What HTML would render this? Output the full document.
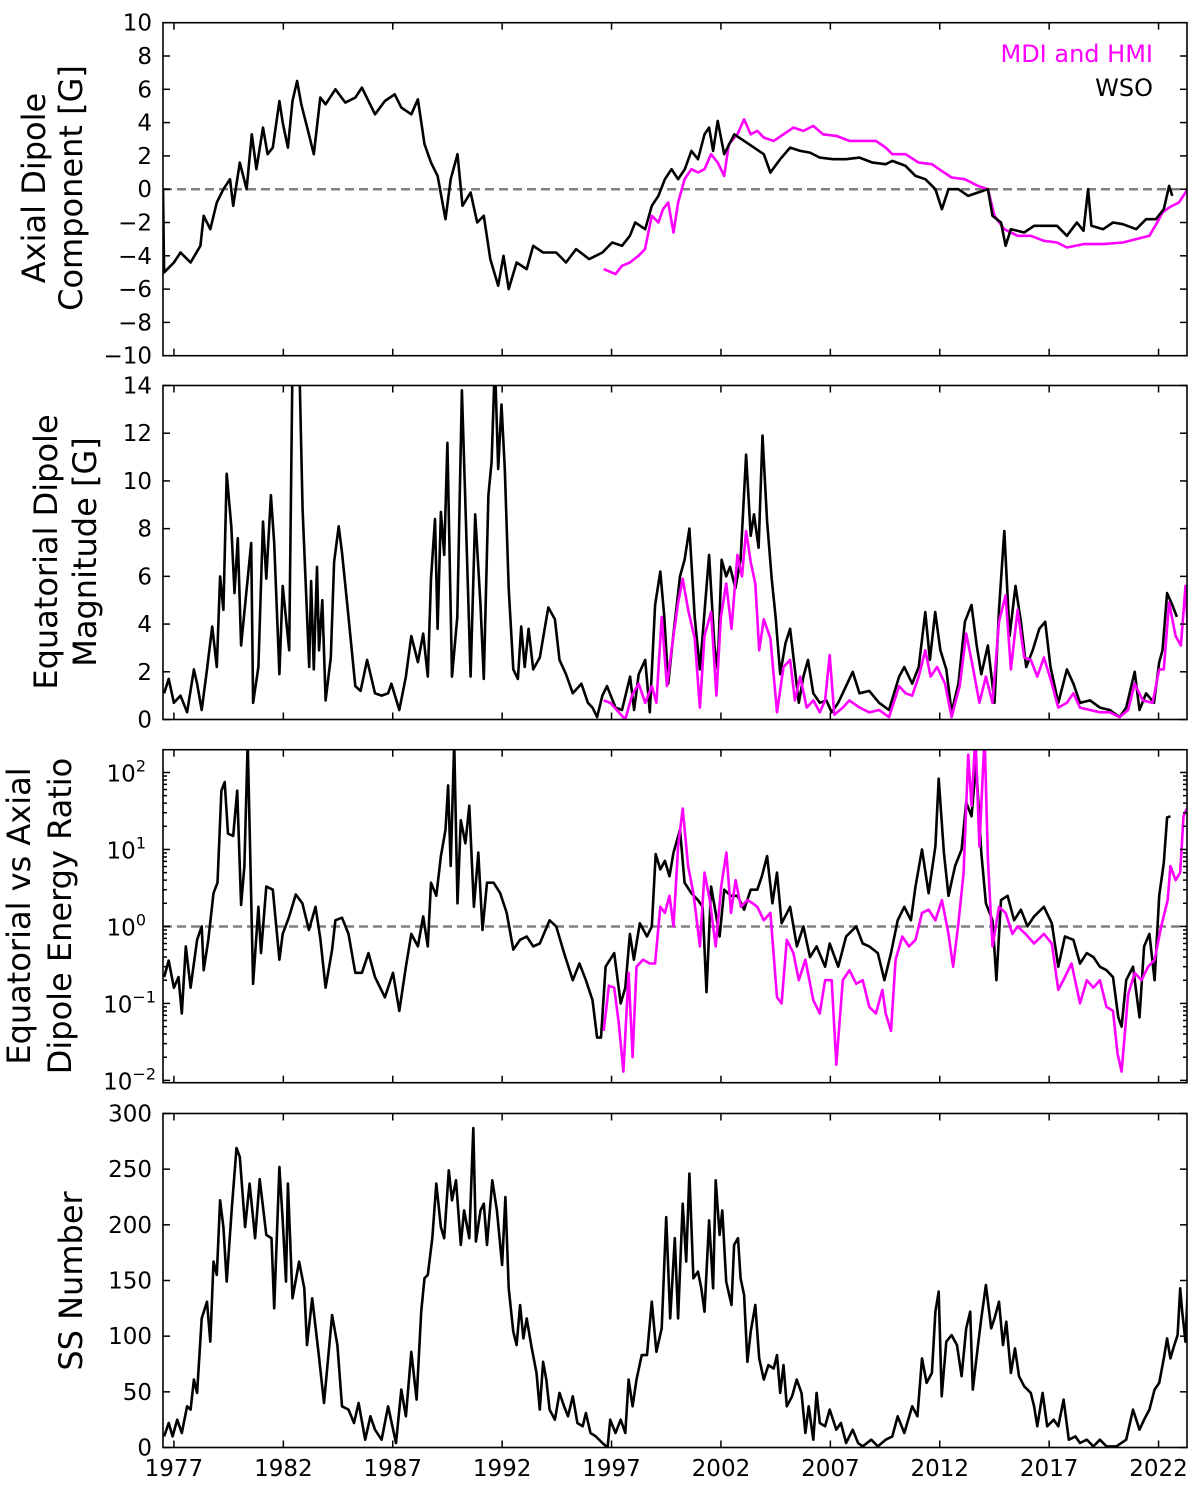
<!DOCTYPE html>
<html><head><meta charset="utf-8"><style>
html,body{margin:0;padding:0;background:#fff;}
svg{display:block;font-family:"DejaVu Sans","Liberation Sans",sans-serif;}
</style></head><body>
<svg id="fig" width="1200" height="1489" viewBox="0 0 1200 1489" xmlns="http://www.w3.org/2000/svg"></svg>
<script>
// ---------- data ----------
const axialWsoYears=[1976.50,1976.55,1977.00,1977.30,1977.76,1978.21,1978.36,1978.66,1978.96,1979.26,1979.56,
1979.71,1980.01,1980.32,1980.56,1980.77,1981.07,1981.28,1981.52,1981.82,1981.97,
1982.21,1982.42,1982.63,1982.82,1983.09,1983.39,1983.69,1983.93,1984.38,1984.83,
1985.29,1985.59,1986.19,1986.64,1987.09,1987.39,1987.85,1988.15,1988.45,1988.75,
1989.05,1989.41,1989.65,1989.96,1990.19,1990.56,1990.86,1991.16,1991.46,1991.82,
1992.06,1992.30,1992.66,1993.12,1993.42,1993.87,1994.47,1994.92,1995.38,1995.98,
1996.58,1997.03,1997.48,1997.84,1998.08,1998.54,1998.84,1999.14,1999.44,1999.74,
2000.04,2000.35,2000.65,2000.95,2001.25,2001.46,2001.64,2001.85,2002.15,2002.61,
2003.06,2003.51,2003.96,2004.26,2004.71,2005.16,2005.62,2006.07,2006.52,2007.12,
2007.72,2008.33,2008.93,2009.53,2009.83,2010.44,2010.89,2011.34,2011.80,2012.10,
2012.40,2012.85,2013.30,2013.75,2014.20,2014.41,2014.80,2015.01,2015.25,2015.86,
2016.31,2016.91,2017.36,2017.81,2018.27,2018.57,2018.78,2018.93,2019.47,2019.92,
2020.37,2020.98,2021.43,2021.88,2022.24,2022.48,2022.63];
const axialWsoValues=[0,-5,-4.4,-3.8,-4.4,-3.4,-1.6,-2.4,-0.8,0,0.6,
-1,1.6,0,3.3,1.2,3.7,2.1,2.5,5.3,4,
2.5,5.3,6.5,5.1,3.7,2.1,5.5,5.1,6,5.2,
5.5,6.1,4.5,5.3,5.7,4.9,4.5,5.4,2.7,1.6,
0.8,-1.8,0.6,2.1,-1,-0.2,-2,-1.6,-4.2,-5.8,
-4,-6,-4.4,-4.8,-3.4,-3.8,-3.8,-4.4,-3.6,-4.2,
-3.8,-3.2,-3.4,-2.8,-2,-2.4,-1,-0.4,0.6,1.2,
0.6,1.2,2.3,1.8,3.3,3.7,2.3,4.1,2.1,3.3,
2.9,2.5,2.1,1,1.8,2.5,2.3,2.2,1.9,1.8,
1.8,1.9,1.6,1.5,1.7,1.4,0.8,0.6,0,-1.2,
0,0,-0.4,-0.2,0,-1.6,-2,-3.4,-2.4,-2.6,
-2.2,-2.2,-2.2,-2.8,-2,-2.5,0,-2.2,-2.4,-2,
-2.1,-2.4,-1.8,-1.8,-1.2,0.2,-0.4];
const axialMdiYears=[1996.64,1997.18,1997.48,1997.84,1998.23,1998.53,1998.84,1999.14,1999.35,1999.59,
1999.83,2000.04,2000.34,2000.65,2000.95,2001.25,2001.55,2001.85,2002.15,2002.36,
2002.75,2003.06,2003.36,2003.66,2003.96,2004.41,2004.86,2005.31,2005.77,2006.22,
2006.67,2007.27,2007.87,2008.48,2009.08,2009.53,2009.83,2010.44,2011.04,2011.64,
2012.09,2012.54,2013.14,2013.75,2014.20,2014.50,2014.95,2015.56,2016.16,2016.76,
2017.36,2017.81,2018.57,2019.47,2020.37,2020.98,2021.58,2021.94,2022.18,2022.48,
2022.93,2023.33];
const axialMdiValues=[-4.8,-5.1,-4.6,-4.4,-4,-3.6,-1.6,-2,-1.2,-0.8,
-2.6,-0.8,0.6,1.2,1,1.2,2.1,1.6,0.8,2.7,
3.3,4.2,3.3,3.5,3.1,2.9,3.3,3.7,3.5,3.8,
3.3,3.2,2.9,2.9,2.9,2.5,2.1,2.1,1.6,1.5,
1.1,0.7,0.6,0.2,0,-1.6,-2.4,-2.8,-2.8,-3.1,
-3.2,-3.5,-3.3,-3.3,-3.2,-3,-2.8,-2,-1.4,-1.1,
-0.8,0];

const eqWsoYears=[1976.55,1976.76,1977.00,1977.30,1977.60,1977.91,1978.06,1978.27,1978.51,1978.75,
1978.96,1979.11,1979.26,1979.41,1979.62,1979.77,1979.92,1980.07,1980.22,1980.53,
1980.62,1980.86,1981.07,1981.22,1981.43,1981.58,1981.82,1981.97,1982.27,1982.42,
1982.73,1982.88,1983.18,1983.27,1983.39,1983.54,1983.63,1983.78,1983.93,1984.17,
1984.32,1984.53,1984.68,1984.98,1985.29,1985.53,1985.83,1986.19,1986.49,1986.79,
1986.94,1987.30,1987.60,1987.85,1988.15,1988.39,1988.60,1988.75,1988.93,1989.05,
1989.20,1989.35,1989.50,1989.71,1989.95,1990.16,1990.31,1990.56,1990.77,1991.01,
1991.16,1991.37,1991.52,1991.67,1991.82,1991.97,1992.12,1992.30,1992.51,1992.72,
1992.87,1993.03,1993.21,1993.42,1993.72,1994.11,1994.41,1994.62,1994.92,1995.23,
1995.62,1995.92,1996.13,1996.34,1996.58,1996.79,1997.18,1997.48,1997.85,1998.03,
1998.24,1998.54,1998.75,1998.99,1999.23,1999.41,1999.59,1999.83,2000.13,2000.34,
2000.56,2000.80,2001.04,2001.25,2001.46,2001.70,2001.85,2002.03,2002.24,2002.42,
2002.66,2002.90,2003.15,2003.36,2003.51,2003.72,2003.90,2004.11,2004.32,2004.50,
2004.71,2004.95,2005.16,2005.38,2005.56,2005.77,2005.98,2006.22,2006.52,2006.82,
2007.06,2007.36,2007.72,2008.02,2008.33,2008.78,2009.23,2009.68,2010.14,2010.38,
2010.74,2011.04,2011.34,2011.55,2011.79,2012.03,2012.30,2012.54,2012.85,2013.15,
2013.45,2013.69,2013.90,2014.20,2014.50,2014.71,2014.95,2015.19,2015.46,2015.71,
2015.95,2016.25,2016.55,2016.82,2017.06,2017.42,2017.81,2018.11,2018.41,2018.87,
2019.32,2019.77,2020.22,2020.52,2020.91,2021.13,2021.43,2021.79,2022.03,2022.18,
2022.39,2022.63,2022.84];
const eqWsoValues=[1.1,1.7,0.7,1,0.3,2.1,1.5,0.4,2.1,3.9,
2.2,6,4.6,10.3,8.1,5.3,7.6,3.1,4.5,7.4,
0.7,2.2,8.3,5.9,9.4,7.4,1.9,5.6,2.9,15,
15,8.8,2.2,5.8,2.1,6.4,2.9,5,0.8,2.6,
6.6,8.1,7,4.3,1.4,1.2,2.5,1.1,1,1.1,
1.5,0.4,1.8,3.5,2.4,3.6,1.8,5.9,8.4,3.8,
8.7,6.9,11.6,1.8,4.3,13.8,9.3,1.8,8.6,4.8,
1.7,9.4,10.8,15,10.5,13.2,10.5,5.5,2.1,1.7,
3.9,2.2,3.8,2.1,2.6,4.7,4.2,2.5,1.9,1.1,
1.5,0.7,0.5,0.1,1,1.4,0.5,0.4,1.8,0.4,
1.9,2.5,0.3,4.8,6.2,4.3,1.5,3.6,6,6.7,
8,4.3,2.1,4.5,6.9,3.1,2.1,6.7,6,6.4,
5.5,6.7,11.1,7.7,8.6,7.2,11.9,8.3,5.9,4.3,
1.9,3.2,3.8,2.1,0.7,1.8,2.5,1.1,0.7,0.8,
0.3,0.7,1.4,2,1.1,1.2,0.7,0.4,1.8,2.2,
1.5,2.2,4.5,2.5,4.5,2.9,2.1,0.3,1.5,4.1,
4.8,3.1,1.9,3.1,0.7,4.6,7.9,3.5,5.6,4.1,
2.2,2.9,3.8,4.1,2.2,0.7,2.1,1.5,0.7,0.8,
0.5,0.4,0.1,0.5,2,0.4,1.1,0.7,2.4,2.9,
5.3,4.8,4.3];
const eqMdiYears=[1996.64,1996.94,1997.24,1997.63,1997.93,1998.24,1998.54,1998.84,1999.05,1999.29,
1999.53,1999.74,2000.04,2000.25,2000.50,2000.80,2001.04,2001.25,2001.55,2001.79,
2002.00,2002.24,2002.48,2002.75,2002.96,2003.15,2003.36,2003.57,2003.75,2003.96,
2004.26,2004.56,2004.86,2005.16,2005.38,2005.62,2005.92,2006.22,2006.52,2006.76,
2006.97,2007.18,2007.57,2007.87,2008.33,2008.78,2009.23,2009.68,2010.14,2010.44,
2010.74,2011.04,2011.34,2011.58,2011.88,2012.24,2012.54,2012.91,2013.21,2013.51,
2013.81,2014.11,2014.41,2014.71,2015.01,2015.25,2015.56,2015.86,2016.16,2016.46,
2016.76,2017.06,2017.42,2017.81,2018.11,2018.41,2018.87,2019.32,2019.77,2020.22,
2020.61,2020.91,2021.28,2021.73,2022.03,2022.24,2022.48,2022.78,2023.02,2023.23,
2023.33];
const eqMdiValues=[0.8,0.7,0.4,0,1,1.5,0.7,1.4,0.7,4.3,
1.4,2.9,4.9,5.9,4.6,3.4,0.5,3.5,4.5,1,
4.3,5.7,3.8,6.9,6,7.9,6.6,5.7,2.9,4.2,
3.4,0.3,2.2,2.5,0.8,1.8,0.5,0.8,0.3,0.8,
2.7,0.2,0.5,0.8,0.5,0.3,0.4,0.1,1.4,1.1,
1,1.8,2.9,1.8,2.2,1.5,0.1,1.4,3.6,2.2,
0.7,1.8,0.7,4.1,5.2,2.1,4.6,2.6,2.5,1.8,
2.6,1.7,0.5,0.7,1.1,0.5,0.4,0.3,0.3,0.1,
0.4,1.5,0.8,0.7,2.1,2.1,4.9,3.5,3.1,5.6,
3.9];

const ratioWsoYears=[1976.55,1976.76,1977.00,1977.21,1977.36,1977.54,1977.76,1978.06,1978.27,1978.36,
1978.57,1978.81,1978.99,1979.17,1979.32,1979.47,1979.71,1979.89,1980.07,1980.22,
1980.37,1980.62,1980.86,1980.98,1981.22,1981.52,1981.82,1981.97,1982.27,1982.57,
1982.87,1983.17,1983.47,1983.69,1983.93,1984.23,1984.38,1984.68,1984.98,1985.29,
1985.59,1985.89,1986.19,1986.64,1987.01,1987.30,1987.60,1987.85,1988.15,1988.39,
1988.60,1988.75,1988.99,1989.20,1989.41,1989.53,1989.65,1989.81,1989.96,1990.11,
1990.32,1990.50,1990.71,1990.91,1991.10,1991.31,1991.61,1991.91,1992.21,1992.51,
1992.82,1993.12,1993.42,1993.72,1994.17,1994.47,1994.83,1995.23,1995.53,1995.83,
1996.13,1996.34,1996.52,1996.73,1997.12,1997.42,1997.63,1997.84,1998.02,1998.29,
1998.62,1998.84,1999.02,1999.23,1999.44,1999.65,1999.83,2000.13,2000.34,2000.65,
2000.95,2001.16,2001.34,2001.55,2001.76,2001.94,2002.15,2002.45,2002.76,2003.06,
2003.36,2003.66,2003.87,2004.11,2004.35,2004.56,2004.77,2005.16,2005.47,2005.77,
2006.07,2006.37,2006.76,2006.97,2007.36,2007.72,2008.18,2008.48,2008.78,2009.17,
2009.47,2009.77,2010.08,2010.38,2010.68,2010.89,2011.19,2011.49,2011.80,2011.95,
2012.19,2012.40,2012.70,2013.00,2013.21,2013.45,2013.66,2013.90,2014.11,2014.41,
2014.59,2014.80,2015.10,2015.40,2015.71,2016.01,2016.31,2016.76,2017.12,2017.42,
2017.72,2018.11,2018.41,2018.72,2019.02,2019.32,2019.62,2019.92,2020.16,2020.31,
2020.52,2020.83,2021.13,2021.34,2021.58,2021.82,2022.03,2022.24,2022.39,2022.54];
const ratioWsoValues=[0.22,0.36,0.16,0.22,0.074,0.55,0.16,0.67,1.0,0.27,
0.67,2.7,3.7,58,75,16,15,58,1.9,6.1,
250,0.18,1.8,0.45,3.3,3,0.37,0.8,1.35,2.6,
2,0.9,1.8,0.7,0.16,0.5,1.2,1.3,0.8,0.25,
0.25,0.45,0.22,0.12,0.25,0.08,0.3,0.8,0.55,1.35,
0.55,3.7,2.5,8.2,18,68,6.1,250,2,24,
12,37,1.8,9.1,0.9,3.7,3.7,2.7,1.5,0.5,
0.67,0.74,0.55,0.6,1.2,1,0.45,0.2,0.33,0.2,
0.11,0.036,0.036,0.3,0.45,0.1,0.16,0.8,0.37,1.1,
0.74,1,8.7,5.5,7.1,4.5,9.1,18,3.7,2.7,
2.2,1.8,0.14,3.3,1.5,0.74,3,2.5,2.5,1.65,
3,3,4.5,8.2,2,5,1.1,1.8,0.55,1,
0.4,0.55,0.3,0.6,0.3,0.74,1,0.6,0.55,0.45,
0.2,0.45,1.2,1.8,1.2,3.3,10,2.7,11,83,
9.1,2.5,6.1,10,41,27,130,9.1,2,1.2,
0.2,2.2,2.5,1.2,1.65,1,1.35,1.8,1.1,0.3,
0.74,0.67,0.33,0.45,0.4,0.3,0.27,0.22,0.066,0.05,
0.2,0.3,0.066,0.55,0.8,0.2,2.5,6.7,26,27];
const ratioMdiYears=[1996.64,1996.88,1997.12,1997.33,1997.54,1997.78,1997.96,1998.14,1998.44,1998.75,
1998.99,1999.23,1999.44,1999.65,1999.83,2000.04,2000.25,2000.50,2000.74,2001.04,
2001.25,2001.49,2001.76,2002.01,2002.25,2002.46,2002.67,2002.91,2003.21,2003.45,
2003.66,2003.96,2004.26,2004.56,2004.77,2005.01,2005.31,2005.56,2005.86,2006.22,
2006.52,2006.76,2007.06,2007.27,2007.57,2007.87,2008.18,2008.48,2008.78,2009.08,
2009.38,2009.53,2009.77,2009.98,2010.29,2010.59,2010.89,2011.19,2011.49,2011.80,
2012.10,2012.40,2012.61,2012.85,2013.09,2013.30,2013.45,2013.63,2013.81,2014.05,
2014.20,2014.41,2014.71,2015.01,2015.32,2015.56,2015.92,2016.31,2016.76,2017.12,
2017.42,2017.72,2018.02,2018.41,2018.72,2019.02,2019.32,2019.62,2019.92,2020.13,
2020.31,2020.61,2020.91,2021.22,2021.52,2021.82,2022.12,2022.42,2022.54,2022.78,
2022.99,2023.14,2023.29];
const ratioMdiValues=[0.044,0.17,0.16,0.055,0.013,0.25,0.02,0.3,0.37,0.33,
0.33,1.8,1.5,2.5,1,11,34,6.1,2.7,0.55,
5,2.2,0.55,3.3,9.1,1.5,4,1.8,2.2,2,
1.8,1.2,1.5,0.12,0.1,0.67,0.45,0.2,0.37,0.11,
0.074,0.2,0.2,0.016,0.2,0.27,0.18,0.2,0.09,0.074,
0.15,0.074,0.044,0.37,0.74,0.55,0.67,1.5,1.65,1.2,
2.2,0.8,0.3,1.1,5,170,37,300,11,300,
7.4,0.55,1.8,1.5,0.8,1,0.8,0.6,0.8,0.6,
0.15,0.22,0.33,0.1,0.2,0.16,0.2,0.09,0.08,0.022,
0.013,0.13,0.25,0.2,0.3,0.37,1,2.2,6.1,4,
5,27,34];

const ssnYears=[1976.55,1976.76,1976.94,1977.15,1977.36,1977.60,1977.76,1977.91,1978.06,1978.27,
1978.51,1978.66,1978.81,1978.96,1979.11,1979.26,1979.41,1979.65,1979.86,1980.01,
1980.25,1980.46,1980.71,1980.92,1981.07,1981.22,1981.46,1981.58,1981.82,1981.97,
1982.12,1982.21,1982.42,1982.72,1982.96,1983.08,1983.32,1983.62,1983.86,1984.23,
1984.47,1984.68,1984.98,1985.23,1985.44,1985.74,1985.98,1986.19,1986.49,1986.79,
1987.15,1987.39,1987.60,1987.85,1988.09,1988.30,1988.45,1988.60,1988.81,1988.99,
1989.20,1989.35,1989.56,1989.71,1989.89,1990.11,1990.26,1990.50,1990.68,1990.80,
1991.01,1991.16,1991.31,1991.55,1991.76,1992.00,1992.15,1992.30,1992.51,1992.66,
1992.82,1992.97,1993.12,1993.33,1993.57,1993.72,1993.87,1994.02,1994.17,1994.41,
1994.62,1994.83,1995.01,1995.23,1995.44,1995.68,1995.83,1996.04,1996.28,1996.58,
1996.82,1996.94,1997.18,1997.42,1997.63,1997.78,1997.96,1998.14,1998.38,1998.62,
1998.84,1999.05,1999.29,1999.50,1999.68,1999.89,2000.04,2000.25,2000.41,2000.56,
2000.74,2000.95,2001.10,2001.25,2001.46,2001.64,2001.76,2001.94,2002.06,2002.24,
2002.48,2002.60,2002.78,2002.90,2003.06,2003.21,2003.36,2003.57,2003.75,2003.96,
2004.17,2004.41,2004.56,2004.71,2004.86,2005.01,2005.25,2005.46,2005.68,2005.86,
2006.01,2006.22,2006.37,2006.52,2006.76,2006.97,2007.27,2007.48,2007.72,2008.02,
2008.27,2008.48,2008.87,2009.17,2009.53,2009.83,2010.08,2010.38,2010.74,2010.98,
2011.19,2011.40,2011.64,2011.80,2011.95,2012.09,2012.30,2012.54,2012.79,2013.00,
2013.21,2013.39,2013.51,2013.75,2013.90,2014.11,2014.35,2014.50,2014.71,2014.89,
2015.04,2015.25,2015.44,2015.62,2015.86,2016.16,2016.31,2016.46,2016.70,2016.91,
2017.21,2017.42,2017.66,2017.90,2018.20,2018.41,2018.72,2019.02,2019.32,2019.62,
2020.07,2020.52,2020.83,2021.13,2021.34,2021.58,2021.82,2022.03,2022.24,2022.39,
2022.54,2022.72,2022.87,2022.99,2023.08,2023.23,2023.33];
const ssnValues=[10,22,10,25,13,37,34,61,49,116,
131,95,167,155,222,198,149,216,269,261,
198,237,188,241,216,191,188,125,252,204,
149,237,134,167,143,92,134,83,40,119,
92,37,34,22,40,7,28,16,7,37,
4,52,28,86,43,122,152,155,188,237,
198,188,249,222,240,182,213,188,287,185,
213,219,182,240,213,164,225,143,104,92,
128,98,116,92,67,34,77,61,34,25,
49,37,28,46,22,19,31,13,10,4,
0,25,13,25,13,61,37,61,83,83,
131,86,107,207,116,188,116,219,167,246,
152,158,143,122,204,143,240,191,213,149,
128,182,188,152,137,77,104,128,80,61,
74,71,83,49,74,37,46,61,49,13,
37,7,49,22,19,34,16,22,4,16,
4,1,7,1,7,10,28,13,37,28,
80,58,67,122,140,46,95,101,92,64,
107,122,52,92,116,146,107,116,131,92,
113,67,89,64,55,49,37,19,49,19,
25,19,43,7,10,4,7,1,7,1,
1,7,34,16,25,34,52,58,80,98,
80,92,101,143,122,95,140];

const xTickYears=[1977,1982,1987,1992,1997,2002,2007,2012,2017,2022];
const axialTicks=[-10,-8,-6,-4,-2,0,2,4,6,8,10];
const eqTicks=[0,2,4,6,8,10,12,14];
const ratioExponents=[-2,-1,0,1,2];
const ssnTicks=[0,50,100,150,200,250,300];

// ---------- rendering ----------
const NS="http://www.w3.org/2000/svg";
const svg=document.getElementById('fig');
const X0=163,X1=1187,YMIN=1976.5,YMAX=2023.3;
function xs(y){return X0+(y-YMIN)/(YMAX-YMIN)*(X1-X0);}
function el(tag,attrs,parent){const e=document.createElementNS(NS,tag);for(const k in attrs)e.setAttribute(k,attrs[k]);(parent||svg).appendChild(e);return e;}
const defs=el('defs',{});

const panels=[
 {name:'axial',top:22.7,bot:355.7,min:-10,max:10,log:false},
 {name:'equatorial',top:385.5,bot:719.5,min:0,max:14,log:false},
 {name:'ratio',top:749.7,bot:1082.7,min:-2.03,max:2.296,log:true},
 {name:'ssn',top:1113.5,bot:1447.5,min:0,max:300,log:false}
];
function ys(p,v){let t=p.log?Math.log10(Math.max(v,1e-6)):v;return p.bot-(t-p.min)/(p.max-p.min)*(p.bot-p.top);}

panels.forEach((p,i)=>{
  const cp=el('clipPath',{id:'clip'+i},defs);
  el('rect',{x:X0,y:p.top,width:X1-X0,height:p.bot-p.top},cp);
});

function drawLine(p,i,years,vals,color,name){
  let d='';const n=Math.min(years.length,vals.length);
  for(let k=0;k<n;k++){d+=(k?'L':'M')+xs(years[k]).toFixed(1)+','+ys(p,vals[k]).toFixed(1);}
  const path=el('path',{d:d,fill:'none',stroke:color,'stroke-width':2.6,'stroke-linejoin':'round','clip-path':'url(#clip'+i+')'});
  
  
}
function dashed(p,i,v,name){
  const l=el('line',{x1:X0,x2:X1,y1:ys(p,v),y2:ys(p,v),stroke:'#808080','stroke-width':2.5,'stroke-dasharray':'9,5'});
  
  
}
function frame(p,name){
  const r=el('rect',{x:X0,y:p.top,width:X1-X0,height:p.bot-p.top,fill:'none',stroke:'#000','stroke-width':1.6});
  
  
  xTickYears.forEach(t=>{
    const x=xs(t);
    el('line',{x1:x,x2:x,y1:p.bot,y2:p.bot-7,stroke:'#000','stroke-width':1.5});
    el('line',{x1:x,x2:x,y1:p.top,y2:p.top+7,stroke:'#000','stroke-width':1.5});
  });
}
function yTick(p,v,len){
  const y=ys(p,v);
  el('line',{x1:X0,x2:X0+len,y1:y,y2:y,stroke:'#000','stroke-width':1.5});
  el('line',{x1:X1,x2:X1-len,y1:y,y2:y,stroke:'#000','stroke-width':1.5});
}
function yLabel(lines,cx,cy,name){
  const g=el('g',{transform:'translate(0,'+cy+')'});
  
  
  lines.forEach((s,j)=>{
    const t=el('text',{x:0,y:0,transform:'translate('+cx[j]+',0) rotate(-90)','text-anchor':'middle','font-size':32,fill:'#000'},g);
    t.textContent=s;
  });
}
const TFS=23;

// Panel 1
let p=panels[0];
dashed(p,0,0,'axial-zero-line');
drawLine(p,0,axialMdiYears,axialMdiValues,'#ff00ff','axial-mdi-hmi-line');
drawLine(p,0,axialWsoYears,axialWsoValues,'#000','axial-wso-line');
frame(p,'axial-panel-frame');
axialTicks.forEach(v=>{yTick(p,v,7);const t=el('text',{x:152,y:ys(p,v)+8,'text-anchor':'end','font-size':TFS});t.textContent=(v<0?'\u2212'+(-v):v);});
yLabel(['Axial Dipole','Component [G]'],[45,82],188,'axial-y-axis-title');
let lg=el('text',{x:1153,y:62,'text-anchor':'end','font-size':24,fill:'#ff00ff'});lg.textContent='MDI and HMI';

lg=el('text',{x:1153,y:96,'text-anchor':'end','font-size':24,fill:'#000'});lg.textContent='WSO';


// Panel 2
p=panels[1];
drawLine(p,1,eqWsoYears,eqWsoValues,'#000','equatorial-wso-line');
drawLine(p,1,eqMdiYears,eqMdiValues,'#ff00ff','equatorial-mdi-hmi-line');
frame(p,'equatorial-panel-frame');
eqTicks.forEach(v=>{yTick(p,v,7);const t=el('text',{x:152,y:ys(p,v)+8,'text-anchor':'end','font-size':TFS});t.textContent=v;});
yLabel(['Equatorial Dipole','Magnitude [G]'],[57,96],552,'equatorial-y-axis-title');

// Panel 3
p=panels[2];
dashed(p,2,1,'ratio-unity-line');
drawLine(p,2,ratioWsoYears,ratioWsoValues,'#000','ratio-wso-line');
drawLine(p,2,ratioMdiYears,ratioMdiValues,'#ff00ff','ratio-mdi-hmi-line');
frame(p,'ratio-panel-frame');
ratioExponents.forEach(e=>{
  yTick(p,Math.pow(10,e),7);
  for(let m=2;m<10&&e<2;m++){const v=m*Math.pow(10,e);yTick(p,v,4);}
  const t=el('text',{x:e<0?156:146,y:ys(p,Math.pow(10,e))+9,'text-anchor':'end','font-size':TFS});
  const a=el('tspan',{},t);a.textContent='10';
  const b=el('tspan',{dy:-10,'font-size':16},t);b.textContent=(e<0?'\u2212'+(-e):e);
});
yLabel(['Equatorial vs Axial','Dipole Energy Ratio'],[30,71],916,'ratio-y-axis-title');

// Panel 4
p=panels[3];
drawLine(p,3,ssnYears,ssnValues,'#000','sunspot-number-line');
frame(p,'ssn-panel-frame');
ssnTicks.forEach(v=>{yTick(p,v,7);const t=el('text',{x:152,y:ys(p,v)+8,'text-anchor':'end','font-size':TFS});t.textContent=v;});
yLabel(['SS Number'],[82],1281,'ssn-y-axis-title');

xTickYears.forEach(t=>{
  const tx=el('text',{x:xs(t),y:1476,'text-anchor':'middle','font-size':TFS});
  tx.textContent=t;
  
  
});
</script>
</body></html>
